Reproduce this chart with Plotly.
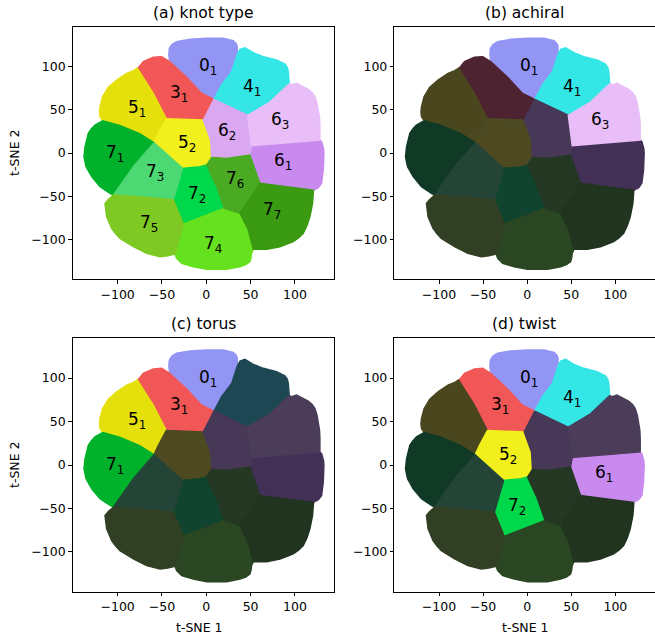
import plotly.graph_objects as go

# ---- knot classes and their colours -------------------------------------
KNOTS = ["0_1", "3_1", "4_1", "5_1", "5_2", "6_1", "6_2", "6_3",
         "7_1", "7_2", "7_3", "7_4", "7_5", "7_6", "7_7"]
KNOT_COLORS = ["#9395f5", "#f25757", "#34e6e6", "#e5e00c", "#f1f01c",
               "#c98aef", "#d9a8f1", "#e9bef8", "#00b12b", "#00d84b",
               "#4cd873", "#66e11f", "#7ec923", "#4aab23", "#3a9a11"]

# label anchor of each cluster (t-SNE 1, t-SNE 2)
LABEL_X = [2, -31, 51, -78, -22, 87, 23, 83, -103, -11, -58, 8, -65, 32, 74]
LABEL_Y = [100, 69, 76, 51, 11, -10, 25, 38, 0, -48, -23, -106, -81, -31, -66]

# ---- cluster outlines in the embedding ----------------------------------
# junction points shared by neighbouring clusters
JUNCTIONS = {
    "A": (8.6, 61.9), "B": (-41.4, 105.4), "C": (35.0, 114.0),
    "D": (46.6, 43.5), "E": (93.6, 80.0), "F": (51.1, 8.5),
    "G": (128.2, 15.0), "H": (49.2, -2.3), "I": (6.0, -5.0),
    "J": (0.4, -13.8), "K": (60.5, -35.0), "L": (121.0, -43.0),
    "M": (38.0, -69.6), "N": (20.3, -63.8), "O": (53.0, -111.2),
    "P": (-25.9, -81.9), "Q": (-35.3, -116.5), "R": (-37.2, -54.2),
    "S": (-26.7, -17.7), "T": (-104.9, -48.5), "U": (-59.0, 11.9),
    "V": (-45.1, 39.6), "W": (-3.4, 38.1), "X": (-116.9, 37.3),
    "Y": (-77.8, 97.7),
}

# each outline: junction names or explicit (x, y) edge points
OUTLINE_0_1 = ["B", (-42.3, 114.0), (-41.7, 120.8), (-38.5, 125.5), (-33.5, 128.5),
               (-18.4, 131.2), (0.4, 132.3), (19.2, 132.3), (30.5, 129.6),
               (34.0, 126.0), (35.0, 122.7), "C", (28.6, 93.8), (17.3, 78.5), "A",
               (-5.3, 68.8), (-22.2, 87.3)]
OUTLINE_3_1 = ["Y", (-75.6, 99.6), (-71.1, 105.4), (-65.0, 108.5), (-59.8, 110.4),
               (-50.4, 111.2), (-44.7, 108.1), "B", (-22.2, 87.3), (-5.3, 68.8), "A",
               "W", "V", (-59.8, 68.8)]
OUTLINE_4_1 = ["C", (38.0, 119.6), (43.6, 121.5), (53.0, 115.8), (64.3, 111.2),
               (79.3, 107.3), (88.7, 102.7), (91.5, 98.5), (92.5, 93.8), (93.6, 84.0),
               "E", (71.8, 58.8), "D", "A", (17.3, 78.5), (28.6, 93.8)]
OUTLINE_5_1 = ["X", (-119.9, 41.9), (-120.5, 47.5), (-119.9, 53.5), (-116.9, 65.0),
               (-110.5, 75.8), (-101.1, 84.2), (-89.8, 91.9), (-82.3, 95.0), "Y",
               (-59.8, 68.8), "V", (-54.1, 22.7), "U", (-75.2, 22.3), (-97.7, 31.9)]
OUTLINE_5_2 = ["W", (4.9, 15.0), "I", "J", (-7.1, -15.8), "S", "U",
               (-54.1, 22.7), "V"]
OUTLINE_6_1 = ["G", (130.1, 13.1), (132.3, 5.0), (132.7, -0.4), (132.0, -19.6),
               (130.1, -35.0), (126.5, -40.0), "L", "K", "H", "F"]
OUTLINE_6_2 = ["A", "D", "F", "H", (22.9, -6.2), "I", (4.9, 15.0), "W"]
OUTLINE_6_3 = ["E", (96.2, 78.5), (101.9, 80.4), (107.5, 77.3), (115.0, 73.5),
               (119.5, 69.5), (122.6, 65.0), (125.0, 57.0), (126.3, 49.6),
               (127.8, 40.0), (128.2, 30.4), "G", "F", "D", (71.8, 58.8)]
OUTLINE_7_1 = ["T", (-108.6, -46.5), (-119.9, -38.8), (-129.3, -27.3),
               (-135.7, -15.8), (-138.0, -4.2), (-136.8, 7.3), (-133.1, 22.7),
               (-129.5, 28.0), (-125.6, 32.3), "X", (-97.7, 31.9), (-75.2, 22.3), "U",
               (-82.3, -15.8)]
OUTLINE_7_2 = ["J", (11.7, -38.8), "N", (-3.4, -73.5), "P", "R", "S", (-7.1, -15.8)]
OUTLINE_7_3 = ["U", "S", "R", (-74.8, -50.4), "T", (-82.3, -15.8)]
OUTLINE_7_4 = ["O", (51.1, -115.8), (50.5, -121.0), (49.2, -125.4), (44.5, -128.8),
               (38.0, -131.2), (22.9, -134.2), (0.4, -134.2), (-14.7, -131.2),
               (-27.8, -127.3), (-33.5, -121.5), "Q", "P", (-3.4, -73.5), "N", "M",
               (47.4, -88.8)]
OUTLINE_7_5 = ["Q", (-43.5, -118.5), (-52.3, -119.6), (-67.3, -115.8),
               (-82.3, -108.1), (-97.4, -98.5), (-102.5, -93.0), (-106.8, -86.9),
               (-112.4, -73.5), (-114.3, -58.1), (-110.5, -53.5), "T",
               (-74.8, -50.4), "R", "P"]
OUTLINE_7_6 = ["I", (22.9, -6.2), "H", "K", "M", "N", (11.7, -38.8), "J"]
OUTLINE_7_7 = ["L", (119.9, -58.1), (116.9, -73.5), (113.5, -84.0), (109.4, -92.7),
               (104.0, -98.0), (98.1, -102.3), (83.1, -108.1), (68.0, -111.2), "O",
               (47.4, -88.8), "M", "K"]

OUTLINES = [OUTLINE_0_1, OUTLINE_3_1, OUTLINE_4_1, OUTLINE_5_1, OUTLINE_5_2,
            OUTLINE_6_1, OUTLINE_6_2, OUTLINE_6_3, OUTLINE_7_1, OUTLINE_7_2,
            OUTLINE_7_3, OUTLINE_7_4, OUTLINE_7_5, OUTLINE_7_6, OUTLINE_7_7]

# ---- panels --------------------------------------------------------------
PANEL_TITLES = ["(a) knot type", "(b) achiral", "(c) torus", "(d) twist"]
HIGHLIGHT_A = KNOTS
HIGHLIGHT_B = ["0_1", "4_1", "6_3"]
HIGHLIGHT_C = ["0_1", "3_1", "5_1", "7_1"]
HIGHLIGHT_D = ["0_1", "3_1", "4_1", "5_2", "6_1", "7_2"]
HIGHLIGHTS = [HIGHLIGHT_A, HIGHLIGHT_B, HIGHLIGHT_C, HIGHLIGHT_D]
TICKS = [-100, -50, 0, 50, 100]

W, H = 655, 637
X_DOMAINS = [(72.7, 334.3), (394.3, 654.5), (72.7, 334.3), (394.3, 654.5)]
Y_DOMAINS = [(26.7, 279.3), (26.7, 279.3), (338.3, 591.7), (338.3, 591.7)]
X_RANGE = [-150.7, 144.4]
Y_RANGE = [-145.7, 145.7]
FONT = "DejaVu Sans"


def hex_rgb(h):
    h = h.lstrip("#")
    return tuple(int(h[i:i + 2], 16) for i in (0, 2, 4))


def dimmed(h, alpha=0.25, base=(22.7, 18.0, 36.0)):
    """Faded version of a class colour for clusters outside the family."""
    mix = [alpha * c + (1 - alpha) * bc for c, bc in zip(hex_rgb(h), base)]
    return "rgb({:.0f},{:.0f},{:.0f})".format(*mix)


def outline_xy(outline):
    xs, ys = [], []
    for p in outline:
        x, y = JUNCTIONS[p] if isinstance(p, str) else p
        xs.append(x)
        ys.append(y)
    xs.append(xs[0])
    ys.append(ys[0])
    return xs, ys


def paper_text(x, y, text, size, angle=0):
    return dict(x=x / W, y=1 - y / H, xref="paper", yref="paper", text=text,
                showarrow=False, xanchor="center", yanchor="middle",
                textangle=angle, font=dict(family=FONT, size=size, color="black"))


fig = go.Figure()
annotations = []

for pi in range(4):
    ax = "" if pi == 0 else str(pi + 1)
    xref, yref = "x" + ax, "y" + ax
    for k, color, outline in zip(KNOTS, KNOT_COLORS, OUTLINES):
        col = color if k in HIGHLIGHTS[pi] else dimmed(color)
        xs, ys = outline_xy(outline)
        fig.add_trace(go.Scatter(
            x=xs, y=ys, mode="lines", fill="toself", fillcolor=col,
            line=dict(color=col, width=1.4, shape="linear"),
            hoverinfo="skip", showlegend=False, xaxis=xref, yaxis=yref))
    for k, lx, ly in zip(KNOTS, LABEL_X, LABEL_Y):
        if k in HIGHLIGHTS[pi]:
            annotations.append(dict(
                x=lx, y=ly, xref=xref, yref=yref, showarrow=False,
                xanchor="center", yanchor="middle",
                text="{}<sub>{}</sub>".format(k[0], k[2]),
                font=dict(family=FONT, size=17, color="black")))

    x0, x1 = X_DOMAINS[pi]
    y0, y1 = Y_DOMAINS[pi]
    axis_common = dict(showgrid=False, zeroline=False, showline=True, mirror=True,
                       linecolor="black", linewidth=1, ticks="outside", ticklen=3.5,
                       tickwidth=1, tickcolor="black", tickvals=TICKS,
                       tickfont=dict(family=FONT, size=12.5, color="black"))
    fig.layout["xaxis" + ax] = dict(domain=[x0 / W, x1 / W], range=X_RANGE,
                                    anchor=yref, **axis_common)
    fig.layout["yaxis" + ax] = dict(domain=[1 - y1 / H, 1 - y0 / H], range=Y_RANGE,
                                    anchor=xref, **axis_common)

    annotations.append(paper_text((x0 + x1) / 2, y0 - 14, PANEL_TITLES[pi], 15.5))

# axis titles
for yc in (153, 465):
    annotations.append(paper_text(14, yc, "t-SNE 2", 12.5, angle=-90))
for xc in (199, 525):
    annotations.append(paper_text(xc, 627, "t-SNE 1", 12.5))

fig.update_layout(width=W, height=H, margin=dict(l=0, r=0, t=0, b=0),
                  paper_bgcolor="white", plot_bgcolor="white",
                  annotations=annotations)

fig.write_html("out.html")
